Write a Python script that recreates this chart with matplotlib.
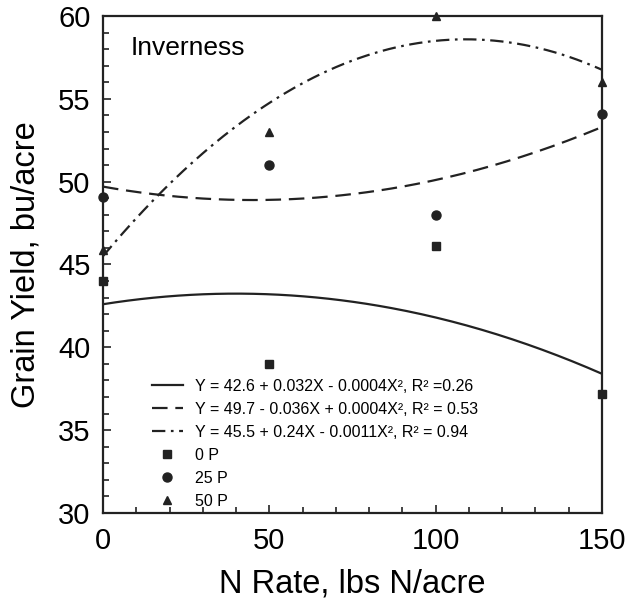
import numpy as np
import matplotlib
matplotlib.use('Agg')
import matplotlib.pyplot as plt
from matplotlib.ticker import MultipleLocator

plt.rcParams['font.family'] = ['Liberation Sans', 'DejaVu Sans']

# N rate, lbs N/acre
n_rate = [0, 50, 100, 150]
# grain yield, bu/acre
yield_0p = [44.0, 39.0, 46.1, 37.2]
yield_25p = [49.1, 51.0, 48.0, 54.1]
yield_50p = [45.9, 53.0, 60.0, 56.0]

# quadratic fits printed in the legend: a + b*X + c*X^2
fit_0p = [42.6, 0.032, -0.0004]
fit_25p = [49.7, -0.036, 0.0004]
fit_50p = [45.5, 0.24, -0.0011]
fit_labels = ['Y = 42.6 + 0.032X - 0.0004X², R² =0.26',
              'Y = 49.7 - 0.036X + 0.0004X², R² = 0.53',
              'Y = 45.5 + 0.24X - 0.0011X², R² = 0.94']
point_labels = ['0 P', '25 P', '50 P']

fig = plt.figure(figsize=(6.26, 6.03), dpi=100)
ax = fig.add_axes([0.1645, 0.1493, 0.7972, 0.8242])

xs = np.linspace(0, 150, 200)
styles = ['-', (0, (7, 3.5)), (0, (6, 2.5, 1.2, 2.5))]
for fit, ls, lab in zip([fit_0p, fit_25p, fit_50p], styles, fit_labels):
    ys = fit[0] + fit[1] * xs + fit[2] * xs ** 2
    ax.plot(xs, ys, color='#222222', lw=1.6, ls=ls, label=lab)

ax.plot(n_rate, yield_0p, 's', color='#222222', ms=5.5, ls='none',
        label=point_labels[0], clip_on=False)
ax.plot(n_rate, yield_25p, 'o', color='#222222', ms=6.5, ls='none',
        label=point_labels[1], clip_on=False)
ax.plot(n_rate, yield_50p, '^', color='#222222', ms=6, ls='none',
        label=point_labels[2], clip_on=False)

ax.set_xlim(0, 150)
ax.set_ylim(30, 60)
ax.xaxis.set_major_locator(MultipleLocator(50))
ax.xaxis.set_minor_locator(MultipleLocator(10))
ax.yaxis.set_major_locator(MultipleLocator(5))
ax.yaxis.set_minor_locator(MultipleLocator(1))
ax.tick_params(which='both', direction='in', top=False, right=False,
               width=1.2, color='#222222')
ax.tick_params(which='major', length=6, labelsize=21)
ax.tick_params(axis='x', which='major', pad=10)
ax.tick_params(axis='y', which='major', pad=9)
ax.tick_params(which='minor', length=4)
for s in ax.spines.values():
    s.set_linewidth(1.6)
    s.set_color('#222222')

ax.set_xlabel('N Rate, lbs N/acre', fontsize=23.5, labelpad=10)
ax.set_ylabel('Grain Yield, bu/acre', fontsize=23.5, labelpad=12)

ax.text(0.055, 0.96, 'Inverness', transform=ax.transAxes, fontsize=19,
        va='top', ha='left')

leg = ax.legend(loc='lower left', bbox_to_anchor=(0.07, -0.02),
                frameon=False, handlelength=1.9, labelspacing=0.5,
                handletextpad=0.75,
                prop={'family': 'Liberation Sans', 'size': 11.5})

fig.savefig('out.png', dpi=100)
